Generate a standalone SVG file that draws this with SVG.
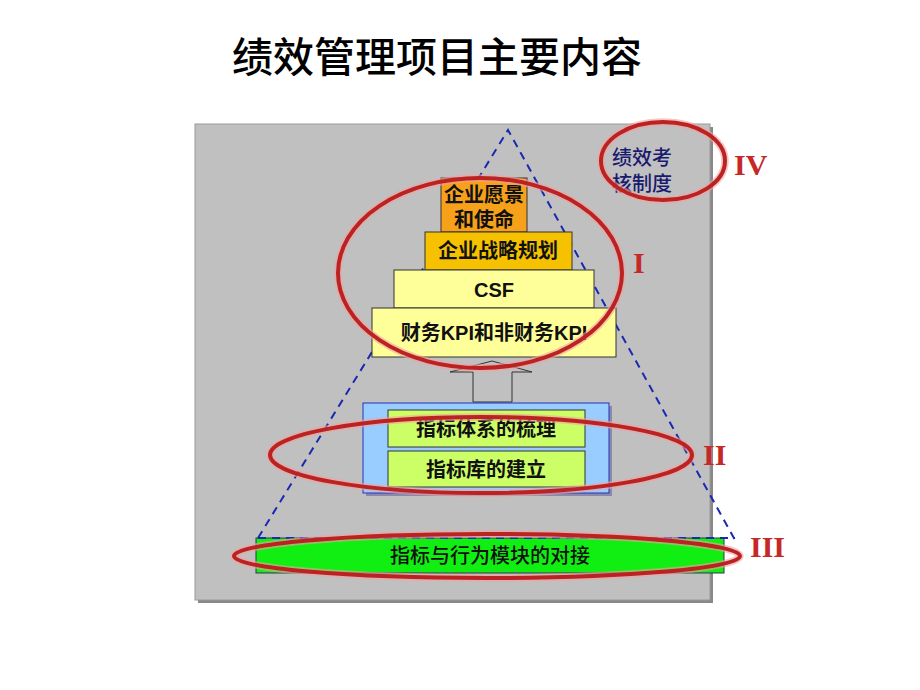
<svg xmlns="http://www.w3.org/2000/svg" width="920" height="690" viewBox="0 0 920 690">
<style>
.cjk{font-family:"Liberation Sans","Noto Sans CJK SC",sans-serif;}
.lbl{font-size:20px;fill:#111;text-anchor:middle;font-weight:bold;}
.box{stroke:#333;stroke-width:1;}
.ring{fill:none;stroke:#bb2222;stroke-width:4;}
.glow{fill:none;stroke:#f4a0a0;stroke-width:7.5;opacity:0.6;}
.roman{font-family:"Liberation Serif",serif;font-weight:bold;font-size:30px;fill:#c62828;}
.dash{fill:none;stroke:#1a2ab0;stroke-width:2;stroke-dasharray:8,6;}
</style>
<rect width="920" height="690" fill="#ffffff"/>
<text x="437" y="72" class="cjk" font-size="41" font-weight="500" text-anchor="middle" fill="#000">绩效管理项目主要内容</text>
<g id="panel">
<rect x="198" y="127" width="515" height="476" fill="#888"/>
<rect x="195" y="124" width="515" height="476" fill="#c0c0c0" stroke="#9a9a9a" stroke-width="1"/>
</g>
<g id="connectors">
<polyline points="258,538 508,130 735,540" class="dash"/>
<polygon points="473,402 473,372 450,372 492,361 532,372 512,372 512,402" fill="#c0c0c0" stroke="#333" stroke-width="1"/>
</g>
<g id="n-vision">
<rect x="441" y="178" width="86" height="54" fill="#f7a11a" class="box"/>
<text x="484" y="202" class="cjk lbl">企业愿景</text>
<text x="484" y="227" class="cjk lbl">和使命</text>
</g>
<g id="n-strategy">
<rect x="425" y="232" width="147" height="38" fill="#f6c200" class="box"/>
<text x="498" y="258" class="cjk lbl">企业战略规划</text>
</g>
<g id="n-csf">
<rect x="394" y="270" width="200" height="38" fill="#ffff99" class="box"/>
<text x="494" y="297" class="cjk lbl">CSF</text>
</g>
<g id="n-kpi">
<rect x="372" y="308" width="244" height="49" fill="#ffff99" class="box"/>
<text x="494" y="340" class="cjk lbl">财务KPI和非财务KPI</text>
</g>
<g id="n-indicators">
<rect x="366" y="406" width="246" height="90" fill="#8a8aa8"/>
<rect x="363" y="403" width="246" height="90" fill="#99ccff" stroke="#2233bb" stroke-width="1"/>
<rect x="388" y="410" width="197" height="37" fill="#ccff66" class="box"/>
<text x="486" y="436" class="cjk lbl">指标体系的梳理</text>
<rect x="388" y="451" width="197" height="36" fill="#ccff66" class="box"/>
<text x="486" y="477" class="cjk lbl">指标库的建立</text>
</g>
<g id="n-docking">
<rect x="256" y="538" width="468" height="35" fill="#11ee11" stroke="#335" stroke-width="1"/>
<line x1="258" y1="538" x2="735" y2="538" class="dash" stroke-width="1.5"/>
<text x="490" y="563" class="cjk lbl" font-weight="500" style="font-weight:500">指标与行为模块的对接</text>
</g>
<g id="n-appraisal">
<text x="642" y="165" class="cjk" font-size="20" font-weight="500" fill="#1a1a6e" text-anchor="middle">绩效考</text>
<text x="642" y="191" class="cjk" font-size="20" font-weight="500" fill="#1a1a6e" text-anchor="middle">核制度</text>
</g>
<g id="rings">
<ellipse cx="480" cy="273" rx="142" ry="95" class="glow"/>
<ellipse cx="480" cy="273" rx="142" ry="95" class="ring"/>
<ellipse cx="481" cy="455" rx="211" ry="38" class="glow"/>
<ellipse cx="481" cy="455" rx="211" ry="38" class="ring"/>
<ellipse cx="487" cy="556" rx="253" ry="22" class="glow"/>
<ellipse cx="487" cy="556" rx="253" ry="22" class="ring"/>
<ellipse cx="663" cy="161" rx="62" ry="39" class="glow"/>
<ellipse cx="663" cy="161" rx="62" ry="39" class="ring"/>
</g>
<g id="labels">
<text x="633" y="273" class="roman">I</text>
<text x="703" y="465" class="roman">II</text>
<text x="750" y="557" class="roman">III</text>
<text x="734" y="175" class="roman">IV</text>
</g>
</svg>
